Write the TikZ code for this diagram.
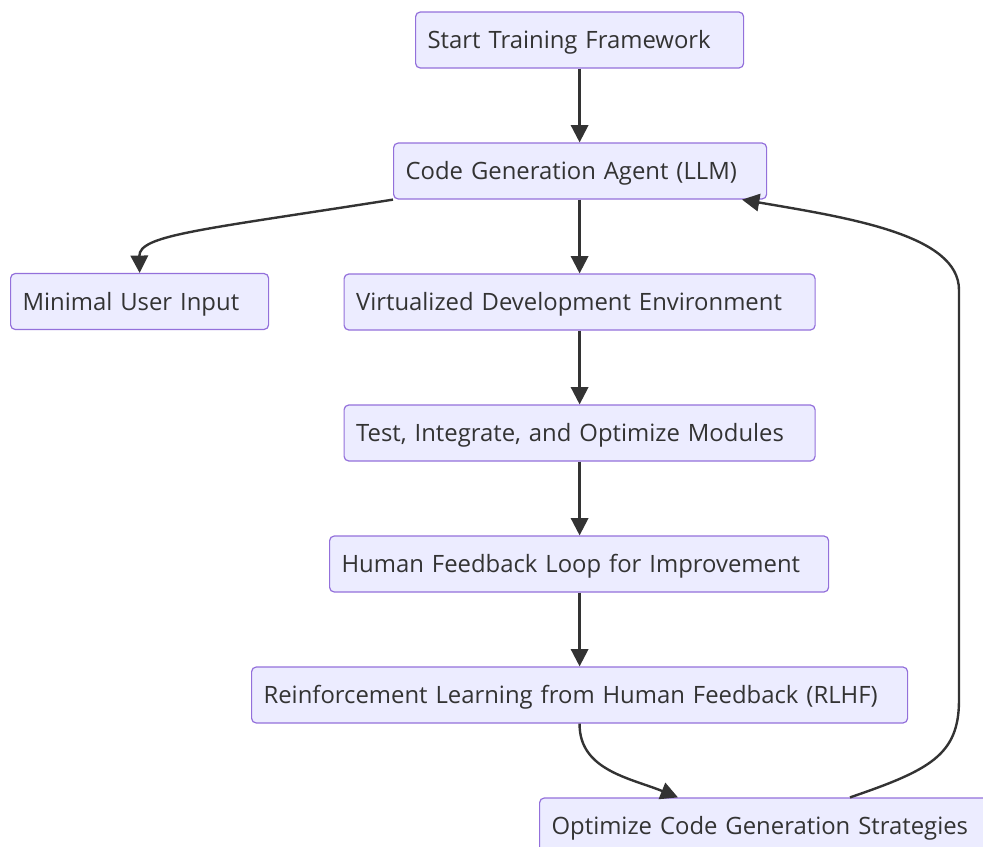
\documentclass[tikz,border=0pt]{standalone}
\usepackage{fontspec}
\setmainfont{Open Sans}
\usetikzlibrary{arrows.meta}
\definecolor{boxfill}{HTML}{ECECFF}
\definecolor{boxline}{HTML}{9370DB}
\definecolor{ink}{HTML}{333333}
\begin{document}
\begin{tikzpicture}[x=.75pt,y=-.75pt,
    box/.style={draw=boxline,fill=boxfill,line width=.9pt,rounded corners=3.5pt,
      anchor=west,align=left,text=ink,minimum height=42pt,inner xsep=9pt,
      text height=12.8pt,text depth=0pt,
      font=\fontsize{17.9}{21}\selectfont,text width=#1},
    flow/.style={draw=ink,line width=1.8pt,-{Triangle[length=13pt,width=13pt]}}]
    \useasboundingbox (0,0) rectangle (983,847);
    \clip (0,0) rectangle (983,847);
    \node[box=228pt] (S) at (415,40) {Start Training Framework};
    \node[box=261.75pt] (A) at (393,171) {Code Generation Agent (LLM)};
    \node[box=175.5pt] (U) at (10,301.5) {Minimal User Input};
    \node[box=335.25pt] (V) at (343.5,302) {Virtualized Development Environment};
    \node[box=335.25pt] (T) at (343.5,433) {Test, Integrate, and Optimize Modules};
    \node[box=356.25pt] (H) at (329,564) {Human Feedback Loop for Improvement};
    \node[box=474pt] (R) at (251,695) {Reinforcement Learning from Human Feedback (RLHF)};
    \node[box=327pt] (O) at (539,826) {Optimize Code Generation Strategies};
    \draw[flow] (S) -- (S |- A.north);
    \draw[flow] (A.south west) .. controls (200,230) and (139,235) .. (U.north);
    \draw[flow] (A.south -| S) -- (S |- V.north);
    \draw[flow] (V.south -| S) -- (S |- T.north);
    \draw[flow] (T.south -| S) -- (S |- H.north);
    \draw[flow] (H.south -| S) -- (S |- R.north);
    \draw[flow] (R.south -| S) .. controls (579,770) and (630,778) .. (O.north -| 678,0);
    \draw[flow] (O.north -| 850,0) .. controls (930,770) and (959,755) .. (959,700)
      -- (959,290) .. controls (959,235) and (850,218) .. (A.south -| 742,0);
\end{tikzpicture}
\end{document}
